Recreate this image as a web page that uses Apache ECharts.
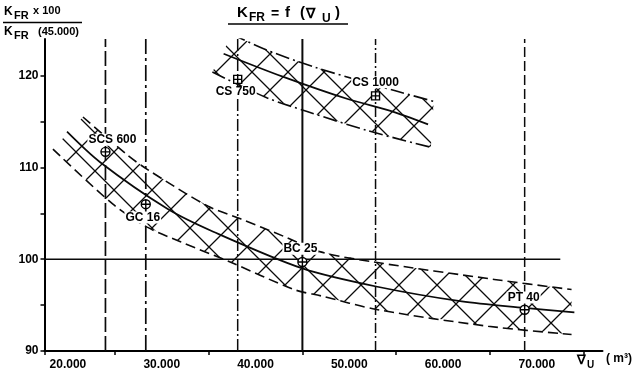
<!DOCTYPE html>
<html>
<head>
<meta charset="utf-8">
<script src="https://cdn.jsdelivr.net/npm/echarts@6/dist/echarts.min.js"></script>
<style>
html, body { margin: 0; padding: 0; background: #fff; }
#chart { width: 638px; height: 381px; }
</style>
</head>
<body>
<div id="chart"></div>
<script>
// Axis ticks and labels
const xLabelValues = [20000, 30000, 40000, 50000, 60000, 70000];
const xTickValues = [17500, 25000, 35000, 45000, 55000, 65000, 75000];
const yLabelValues = [90, 100, 110, 120];
const yTickValues = [90, 95, 100, 105, 110, 115, 120];

// Main band: upper limit, mean curve, lower limit  [volume m3, K ratio]
const mainUpper = [[21600, 115.5], [26400, 111.3], [28450, 109.8], [34900, 105.8], [38400, 104.4],
                   [43000, 102.5], [46950, 100.8], [52600, 99.7], [65450, 97.8], [73700, 96.7]];
const mainMean  = [[19900, 113.9], [23400, 110.6], [30600, 105.5], [35500, 103.0], [45000, 99.0],
                   [53000, 97.0], [62000, 95.4], [68700, 94.7], [74000, 94.2]];
const mainLower = [[18400, 112.0], [24800, 106.0], [28450, 103.5], [32000, 101.9], [37300, 99.7],
                   [44100, 96.7], [47000, 96.0], [53050, 94.5], [64800, 92.7], [73700, 91.8]];

// CS band
const csUpper = [[37500, 124.5], [41200, 122.8], [46400, 120.9], [52000, 119.2], [55100, 118.3], [59000, 117.2]];
const csMean  = [[36600, 122.4], [42900, 119.9], [50000, 117.4], [54300, 116.2], [58400, 114.7]];
const csLower = [[35400, 120.4], [41200, 117.6], [45500, 116.1], [52000, 114.0], [58700, 112.2]];

// Measured plants
const siteNames = ['SCS 600', 'GC 16', 'BC 25', 'PT 40'];
const siteX = [24000, 28300, 45000, 68700];
const siteY = [111.7, 106.0, 99.7, 94.5];
const csNames = ['CS 750', 'CS 1000'];
const csX = [38100, 52800];
const csY = [119.6, 117.8];

// Reference level
const refLevel = 100;
const refRange = [17500, 72500];

const INK = '#000';
const FONT = 'Liberation Sans';
const Y_MIN = 90, Y_MAX = 124;

function hatchPattern(size, width) {
  const c = document.createElement('canvas');
  c.width = c.height = size;
  const g = c.getContext('2d');
  g.strokeStyle = '#0a0a0a';
  g.lineWidth = width;
  g.beginPath();
  g.moveTo(0, 0); g.lineTo(size, size);
  g.moveTo(0, size); g.lineTo(size, 0);
  g.stroke();
  return { image: c, repeat: 'repeat' };
}

function bandSeries(upper, lower, pattern) {
  return {
    type: 'custom',
    silent: true,
    z: 1,
    data: [0],
    renderItem: (params, api) => {
      const pts = upper.concat(lower.slice().reverse()).map(p => api.coord(p));
      return { type: 'polygon', shape: { points: pts }, style: { fill: pattern, stroke: null } };
    }
  };
}

function curve(data, dash, width) {
  return {
    type: 'line', data: data, smooth: 0.3, symbol: 'none', silent: true, z: 3,
    lineStyle: { color: '#0a0a0a', width: width || 1.6, type: dash }
  };
}

// Vertical marker lines for each plant volume
const verticalStyles = {
  24000: { type: [15, 4], width: 1.7 },
  28300: { type: [16, 4, 3, 4], width: 1.7 },
  38100: { type: [12, 3, 2, 3], width: 1.5 },
  45000: { type: 'solid', width: 2 },
  52800: { type: [10, 3, 2, 3], width: 1.5 },
  68700: { type: [10, 4], width: 1.5 }
};
const verticalSeries = siteX.concat(csX).map(x => ({
  type: 'line', symbol: 'none', silent: true, z: 2,
  data: [[x, Y_MIN], [x, Y_MAX]],
  lineStyle: { color: '#0a0a0a', width: verticalStyles[x].width, type: verticalStyles[x].type }
}));

const circleCross = 'path://M10,0 A10,10 0 1,1 10,20 A10,10 0 1,1 10,0 Z M0,10 L20,10 M10,0 L10,20';
const squareCross = 'path://M0,0 L20,0 L20,20 L0,20 Z M0,10 L20,10 M10,0 L10,20';

const siteLabelPos = [
  { position: 'top', distance: 1, offset: [7, 0] },
  { position: 'bottom', distance: 2, offset: [-3, 0] },
  { position: 'top', distance: 2, offset: [-2, 0] },
  { position: 'top', distance: 1, offset: [-1, 0] }
];
const csLabelPos = [
  { position: 'bottom', distance: 2, offset: [-2, 0] },
  { position: 'top', distance: 3, offset: [0, 0] }
];

function markerSeries(names, xs, ys, symbol, size, labelPos) {
  return {
    type: 'scatter', symbol: symbol, symbolSize: size, silent: true, z: 5,
    itemStyle: { color: '#fff', borderColor: INK, borderWidth: 1.4, opacity: 1 },
    label: {
      show: true, formatter: '{b}', color: INK, fontFamily: FONT, fontSize: 12, fontWeight: 'bold',
      backgroundColor: '#fff', padding: [0, 1]
    },
    data: names.map((n, i) => ({ name: n, value: [xs[i], ys[i]], label: labelPos[i] }))
  };
}

function txt(text, x, y, size) {
  return {
    type: 'text', silent: true, z: 10,
    style: {
      text: text, x: x, y: y, fill: INK,
      font: 'bold ' + size + 'px "' + FONT + '"', verticalAlign: 'middle'
    }
  };
}

const chart = echarts.init(document.getElementById('chart'), null, { renderer: 'canvas' });
chart.setOption({
  animation: false,
  backgroundColor: '#fff',
  grid: { left: 44.5, right: 35.5, top: 39, bottom: 30, containLabel: false, outerBoundsMode: 'none' },
  xAxis: {
    type: 'value', min: 17500, max: 77000,
    axisLine: { show: true, onZero: false, lineStyle: { color: INK, width: 2 } },
    axisTick: { show: true, customValues: xTickValues, length: 4, lineStyle: { color: INK, width: 1.5 } },
    axisLabel: {
      customValues: xLabelValues, margin: 8, color: INK, fontFamily: FONT, fontSize: 12, fontWeight: 'bold',
      formatter: v => (v / 1000) + '.000'
    },
    splitLine: { show: false }
  },
  yAxis: {
    type: 'value', min: Y_MIN, max: Y_MAX,
    axisLine: { show: true, onZero: false, lineStyle: { color: INK, width: 2 } },
    axisTick: { show: true, customValues: yTickValues, length: 4, lineStyle: { color: INK, width: 1.5 } },
    axisLabel: { customValues: yLabelValues, margin: 6, color: INK, fontFamily: FONT, fontSize: 12, fontWeight: 'bold' },
    splitLine: { show: false }
  },
  series: [
    bandSeries(mainUpper, mainLower, hatchPattern(38, 1.3)),
    bandSeries(csUpper, csLower, hatchPattern(36, 1.3)),
    curve(mainUpper, [10, 5]),
    curve(mainMean, 'solid', 1.7),
    curve(mainLower, [10, 5]),
    curve(csUpper, [14, 4, 2, 4]),
    curve(csMean, 'solid', 1.7),
    curve(csLower, [14, 4, 2, 4]),
    {
      type: 'line', symbol: 'none', silent: true, z: 2,
      data: [[refRange[0], refLevel], [refRange[1], refLevel]],
      lineStyle: { color: '#0a0a0a', width: 1.6 }
    }
  ].concat(verticalSeries).concat([
    markerSeries(siteNames, siteX, siteY, circleCross, 9, siteLabelPos),
    markerSeries(csNames, csX, csY, squareCross, 8, csLabelPos)
  ]),
  graphic: [
    // chart title K_FR = f(∇_U), underlined
    txt('K', 237, 13, 15),
    txt('FR', 249, 18, 12),
    txt('=', 271, 14, 14),
    txt('f', 285, 13, 15),
    txt('(', 300, 13, 15),
    txt('∇', 306, 14, 14),
    txt('U', 322, 19, 12),
    txt(')', 335, 13, 15),
    { type: 'line', silent: true, shape: { x1: 228, y1: 24, x2: 348, y2: 24 }, style: { stroke: INK, lineWidth: 1.6 } },
    // y-axis name as a fraction
    txt('K', 4, 12, 12),
    txt('FR', 14, 16, 11),
    txt('x 100', 33, 11, 11),
    { type: 'line', silent: true, shape: { x1: 3, y1: 22.5, x2: 82, y2: 22.5 }, style: { stroke: INK, lineWidth: 1.4 } },
    txt('K', 4, 32, 12),
    txt('FR', 14, 36, 11),
    txt('(45.000)', 38, 32, 11),
    // x-axis name
    txt('∇', 577, 360, 13),
    txt('U', 587, 365, 10),
    txt('( m³)', 606, 359, 12)
  ]
});
</script>
</body>
</html>
